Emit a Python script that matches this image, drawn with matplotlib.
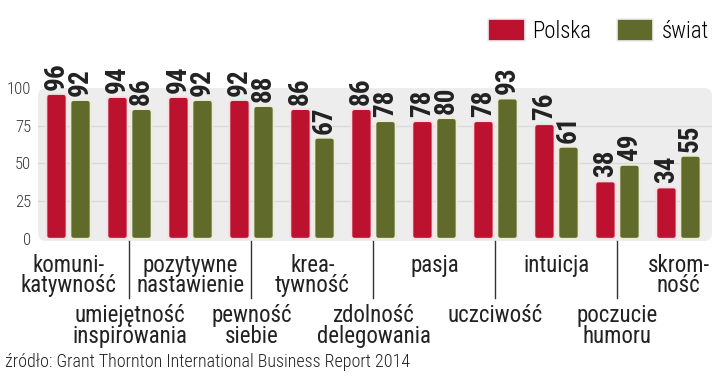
import numpy as np
import matplotlib
matplotlib.use("Agg")
import matplotlib.pyplot as plt
from matplotlib.patches import FancyBboxPatch
from matplotlib.transforms import blended_transform_factory

categories = [
    "komuni-\nkatywność",
    "umiejętność\ninspirowania",
    "pozytywne\nnastawienie",
    "pewność\nsiebie",
    "krea-\ntywność",
    "zdolność\ndelegowania",
    "pasja",
    "uczciwość",
    "intuicja",
    "poczucie\nhumoru",
    "skrom-\nność",
]
polska = [96, 94, 94, 92, 86, 86, 78, 78, 76, 38, 34]
swiat = [92, 86, 92, 88, 67, 78, 80, 93, 61, 49, 55]
series_names = ["Polska", "świat"]
yticks = [0, 25, 50, 75, 100]
source = "źródło: Grant Thornton International Business Report 2014"

RED = "#bd1130"
GREEN = "#5f6a2b"
TXT = "#222222"
COND = ["Roboto Condensed", "Barlow Condensed", "DejaVu Sans"]

fig = plt.figure(figsize=(7.2, 3.83), dpi=100)
ax = fig.add_axes([38 / 720, 1 - 241 / 383, 674 / 720, 153 / 383])
ax.patch.set_visible(False)
# rounded light-grey panel behind the bars
ax.add_patch(FancyBboxPatch((0, 0), 1, 1, boxstyle="round,pad=0,rounding_size=0.012",
                            mutation_aspect=674 / 153, transform=ax.transAxes,
                            fc="#ededed", ec="none", zorder=0))

x = np.arange(len(categories))
off = 0.197
w = 0.33
b1 = ax.bar(x - off, polska, w, color=RED, label=series_names[0], zorder=3)
b2 = ax.bar(x + off, swiat, w, color=GREEN, label=series_names[1], zorder=3)

ax.set_xlim(-0.5, 10.55)
ax.set_ylim(-1.5, 100)

# swap the plain rectangles for rounded ones of the same geometry
aspect = (101.5 / 153) / (11.05 / 674)
for bars, col, edge in ((b1, RED, "#f6dde0"), (b2, GREEN, "#eeecd6")):
    for rect in bars:
        rect.set_visible(False)
        ax.add_patch(FancyBboxPatch((rect.get_x(), rect.get_y()), rect.get_width(),
                                    rect.get_height(),
                                    boxstyle="round,pad=0,rounding_size=0.055",
                                    mutation_aspect=aspect, fc=col, ec=edge,
                                    lw=1.3, zorder=3))

for bars, vals in ((b1, polska), (b2, swiat)):
    for rect, v in zip(bars, vals):
        ax.annotate(str(v), (rect.get_x() + rect.get_width() / 2, v),
                    xytext=(0, 3), textcoords="offset points",
                    rotation=90, ha="center", va="bottom",
                    fontsize=19.5, fontweight="bold", color=TXT,
                    family=COND, annotation_clip=False)

ax.set_yticks(yticks)
ax.set_yticklabels([str(t) for t in yticks], family=COND, fontweight="light",
                   fontsize=12, color="#333333")
ax.tick_params(axis="y", length=0, pad=5)
ax.set_xticks([])
for t in yticks[1:4]:
    ax.axhline(t, color="#d9d9d9", lw=1, zorder=1)
for s in ax.spines.values():
    s.set_visible(False)

# category labels in two rows, second row with leader lines
trans = blended_transform_factory(ax.transData, ax.transAxes)
for i, name in enumerate(categories):
    if i % 2 == 0:
        ax.text(i, -0.085, name, transform=trans, ha="center", va="top",
                family=COND, fontsize=16.5, color=TXT, linespacing=0.85)
    else:
        ax.text(i, -0.41, name, transform=trans, ha="center", va="top",
                family=COND, fontsize=16.5, color=TXT, linespacing=0.88)
        ax.plot([i, i], [0, -0.37], transform=trans, color="#333333",
                lw=1, clip_on=False)

leg = fig.legend(handles=[b1, b2], loc="upper right", bbox_to_anchor=(1.013, 1.003),
                 ncol=2, frameon=False, handlelength=1.6, handleheight=1.1,
                 columnspacing=1.1, handletextpad=0.35,
                 prop={"family": COND, "weight": "light", "size": 16.5})
for h in leg.legend_handles:
    h.set_visible(True)
    h.set_edgecolor("#eeeeee")
    h.set_linewidth(1.2)

fig.text(5 / 720, 1 - 362 / 383, source, ha="left", va="center",
         family=COND, fontweight="light", fontsize=13, color=TXT)

fig.savefig("out.png", dpi=100)
